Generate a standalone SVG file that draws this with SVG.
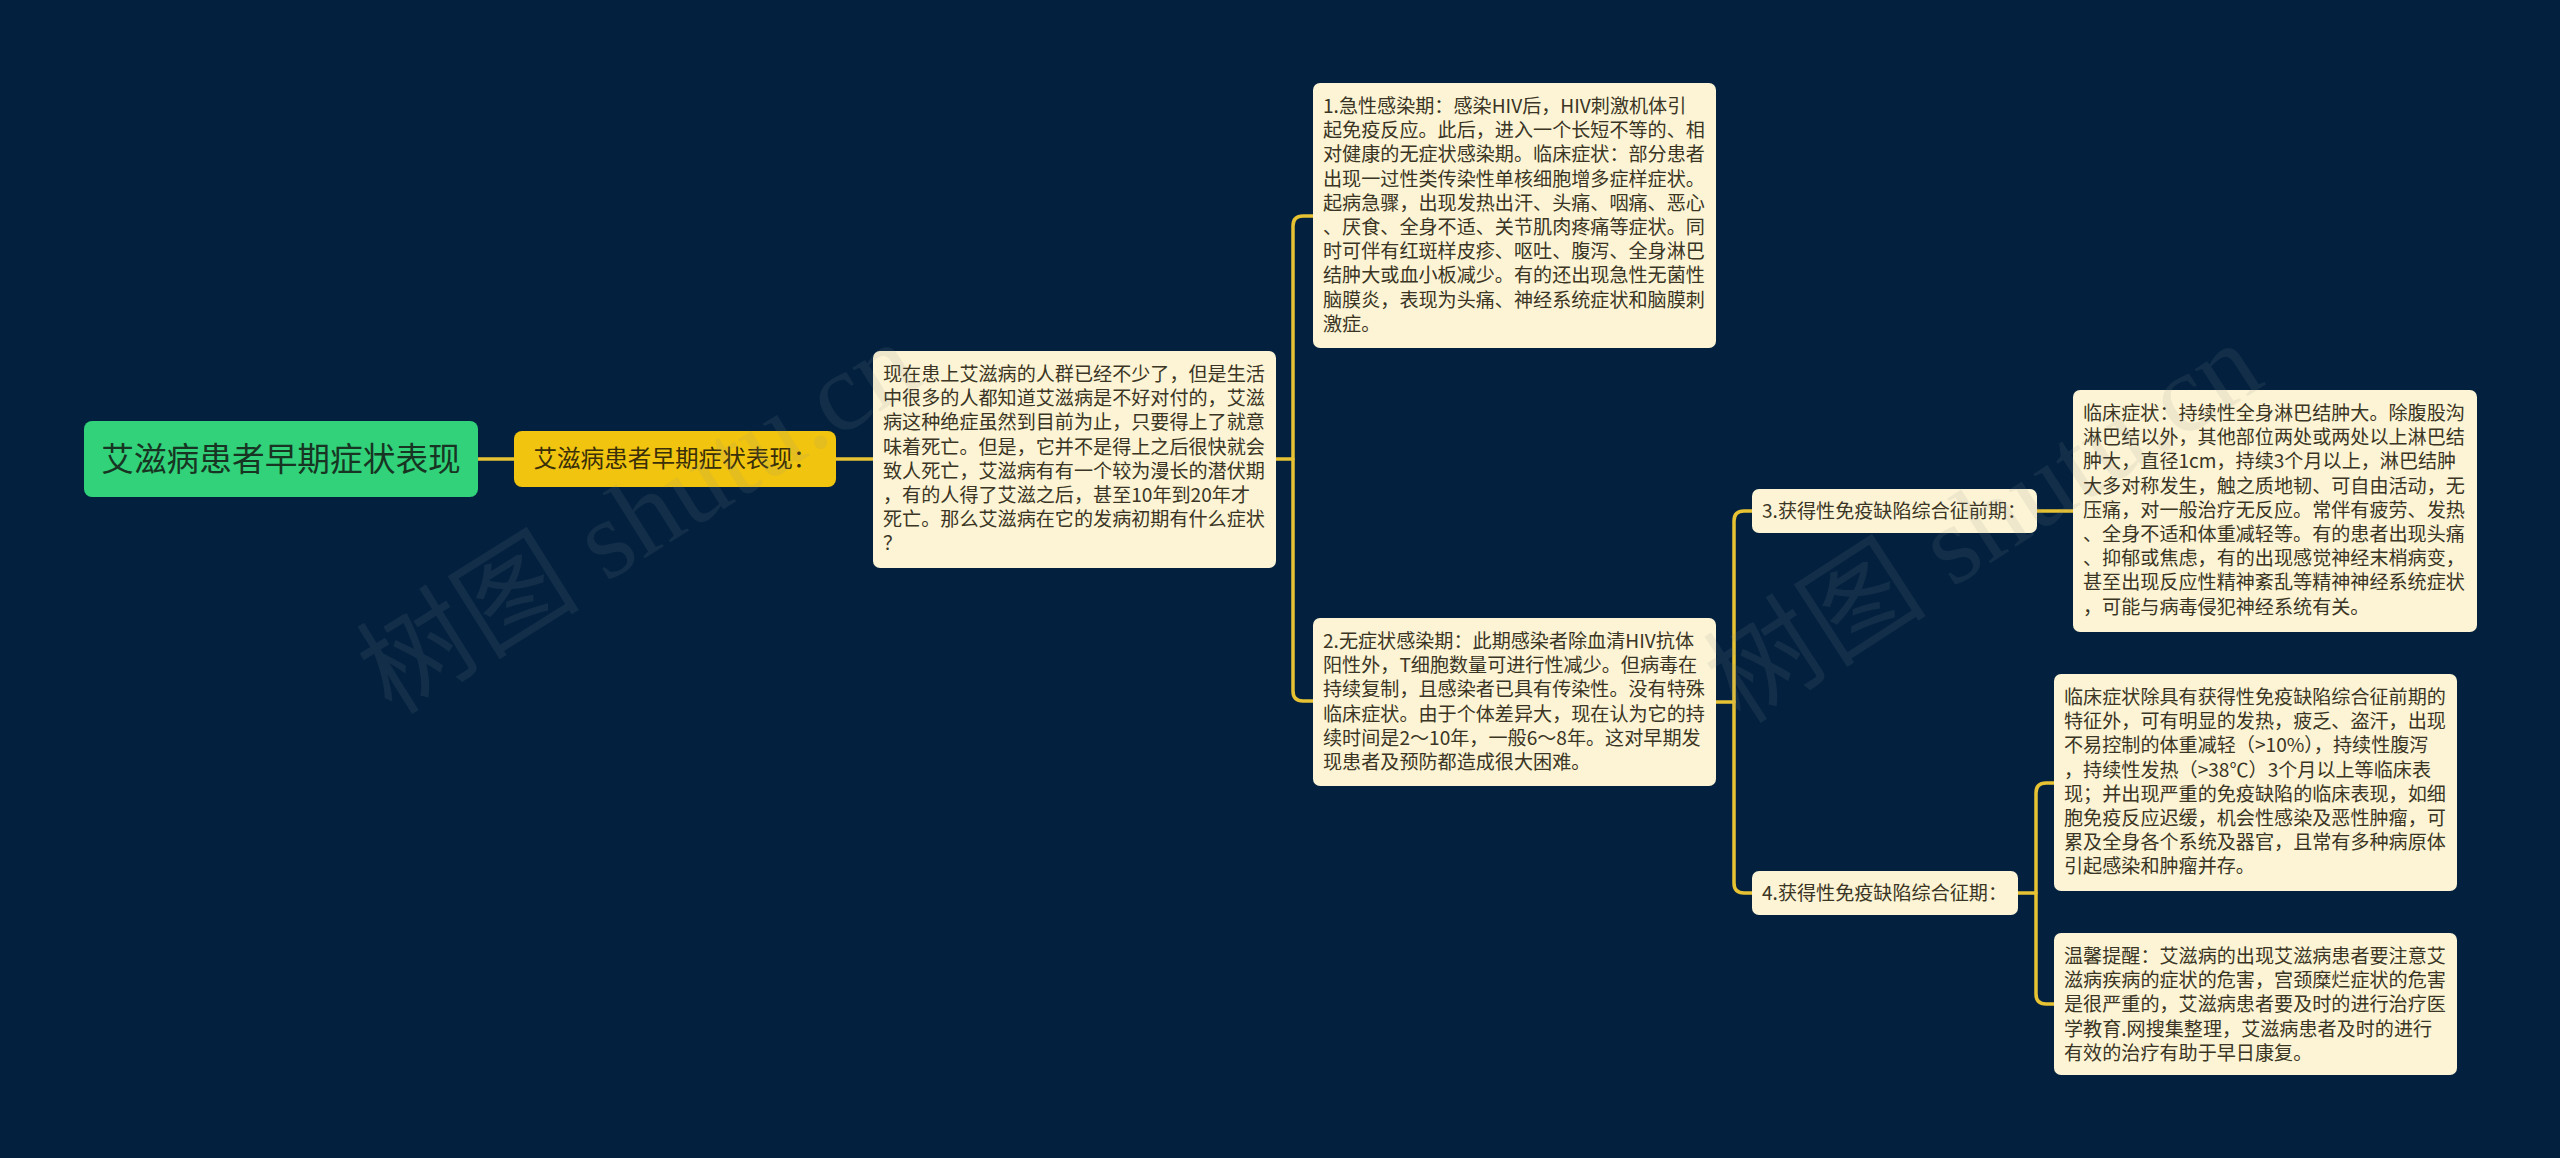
<svg xmlns="http://www.w3.org/2000/svg" width="2560" height="1158" viewBox="0 0 2560 1158">
<style>
.bg{fill:#03213f}
.leaf rect{fill:#fcf4d4}
.leaf text{font-family:"Noto Sans CJK SC","Noto Sans",sans-serif;font-size:19.1px;fill:#3a3524}
.root rect{fill:#31d27a}
.root text{font-family:"Noto Sans CJK SC","Noto Sans",sans-serif;font-size:32.7px;fill:#173522}
.l1 rect{fill:#f1c40f}
.l1 text{font-family:"Noto Sans CJK SC","Noto Sans",sans-serif;font-size:23.6px;fill:#3a2f08}
.conn{fill:none;stroke:#e7c233;stroke-width:3.5;stroke-linecap:round}
.wm{font-family:"Liberation Serif","Noto Sans CJK SC",serif;font-size:112px;fill:#8a8a8a;fill-opacity:0.12}
</style>
<rect class="bg" x="0" y="0" width="2560" height="1158"/>

<g id="connectors">
<path class="conn" d="M478 459 H514"/>
<path class="conn" d="M836 459 H873"/>
<path class="conn" d="M1276 459 H1293"/>
<path class="conn" d="M1313 216 H1303 Q1293 216 1293 226 V691 Q1293 701 1303 701 H1313"/>
<path class="conn" d="M1716 702 H1734"/>
<path class="conn" d="M1752 511 H1744 Q1734 511 1734 521 V883 Q1734 893 1744 893 H1752"/>
<path class="conn" d="M2037 511 H2073"/>
<path class="conn" d="M2018 893 H2036"/>
<path class="conn" d="M2054 783 H2046 Q2036 783 2036 793 V994 Q2036 1004 2046 1004 H2054"/>
</g>

<g id="root" class="root">
<rect x="84" y="421" width="394" height="76" rx="8"/>
<text x="281" y="471" text-anchor="middle">艾滋病患者早期症状表现</text>
</g>

<g id="level1" class="l1">
<rect x="514" y="431" width="322" height="56" rx="8"/>
<text x="675" y="467" text-anchor="middle">艾滋病患者早期症状表现：</text>
</g>

<g id="intro" class="leaf">
<rect x="873" y="351" width="403" height="217" rx="7"/>
<text x="883" y="381">
<tspan x="883" dy="0">现在患上艾滋病的人群已经不少了，但是生活</tspan>
<tspan x="883" dy="24.2">中很多的人都知道艾滋病是不好对付的，艾滋</tspan>
<tspan x="883" dy="24.2">病这种绝症虽然到目前为止，只要得上了就意</tspan>
<tspan x="883" dy="24.2">味着死亡。但是，它并不是得上之后很快就会</tspan>
<tspan x="883" dy="24.2">致人死亡，艾滋病有有一个较为漫长的潜伏期</tspan>
<tspan x="883" dy="24.2">，有的人得了艾滋之后，甚至10年到20年才</tspan>
<tspan x="883" dy="24.2">死亡。那么艾滋病在它的发病初期有什么症状</tspan>
<tspan x="883" dy="24.2">？</tspan>
</text>
</g>

<g id="stage1" class="leaf">
<rect x="1313" y="83" width="403" height="265" rx="7"/>
<text x="1323" y="113">
<tspan x="1323" dy="0">1.急性感染期：感染HIV后，HIV刺激机体引</tspan>
<tspan x="1323" dy="24.2">起免疫反应。此后，进入一个长短不等的、相</tspan>
<tspan x="1323" dy="24.2">对健康的无症状感染期。临床症状：部分患者</tspan>
<tspan x="1323" dy="24.2">出现一过性类传染性单核细胞增多症样症状。</tspan>
<tspan x="1323" dy="24.2">起病急骤，出现发热出汗、头痛、咽痛、恶心</tspan>
<tspan x="1323" dy="24.2">、厌食、全身不适、关节肌肉疼痛等症状。同</tspan>
<tspan x="1323" dy="24.2">时可伴有红斑样皮疹、呕吐、腹泻、全身淋巴</tspan>
<tspan x="1323" dy="24.2">结肿大或血小板减少。有的还出现急性无菌性</tspan>
<tspan x="1323" dy="24.2">脑膜炎，表现为头痛、神经系统症状和脑膜刺</tspan>
<tspan x="1323" dy="24.2">激症。</tspan>
</text>
</g>

<g id="stage2" class="leaf">
<rect x="1313" y="618" width="403" height="168" rx="7"/>
<text x="1323" y="648">
<tspan x="1323" dy="0">2.无症状感染期：此期感染者除血清HIV抗体</tspan>
<tspan x="1323" dy="24.2">阳性外，T细胞数量可进行性减少。但病毒在</tspan>
<tspan x="1323" dy="24.2">持续复制，且感染者已具有传染性。没有特殊</tspan>
<tspan x="1323" dy="24.2">临床症状。由于个体差异大，现在认为它的持</tspan>
<tspan x="1323" dy="24.2">续时间是2～10年，一般6～8年。这对早期发</tspan>
<tspan x="1323" dy="24.2">现患者及预防都造成很大困难。</tspan>
</text>
</g>

<g id="stage3" class="leaf">
<rect x="1752" y="489" width="285" height="44" rx="7"/>
<text x="1762" y="518">3.获得性免疫缺陷综合征前期：</text>
</g>

<g id="stage3-detail" class="leaf">
<rect x="2073" y="390" width="404" height="242" rx="7"/>
<text x="2083" y="420">
<tspan x="2083" dy="0">临床症状：持续性全身淋巴结肿大。除腹股沟</tspan>
<tspan x="2083" dy="24.2">淋巴结以外，其他部位两处或两处以上淋巴结</tspan>
<tspan x="2083" dy="24.2">肿大，直径1cm，持续3个月以上，淋巴结肿</tspan>
<tspan x="2083" dy="24.2">大多对称发生，触之质地韧、可自由活动，无</tspan>
<tspan x="2083" dy="24.2">压痛，对一般治疗无反应。常伴有疲劳、发热</tspan>
<tspan x="2083" dy="24.2">、全身不适和体重减轻等。有的患者出现头痛</tspan>
<tspan x="2083" dy="24.2">、抑郁或焦虑，有的出现感觉神经末梢病变，</tspan>
<tspan x="2083" dy="24.2">甚至出现反应性精神紊乱等精神神经系统症状</tspan>
<tspan x="2083" dy="24.2">，可能与病毒侵犯神经系统有关。</tspan>
</text>
</g>

<g id="stage4" class="leaf">
<rect x="1752" y="871" width="266" height="44" rx="7"/>
<text x="1762" y="900">4.获得性免疫缺陷综合征期：</text>
</g>

<g id="stage4-detail" class="leaf">
<rect x="2054" y="674" width="403" height="217" rx="7"/>
<text x="2064" y="704">
<tspan x="2064" dy="0">临床症状除具有获得性免疫缺陷综合征前期的</tspan>
<tspan x="2064" dy="24.2">特征外，可有明显的发热，疲乏、盗汗，出现</tspan>
<tspan x="2064" dy="24.2">不易控制的体重减轻（&gt;10%），持续性腹泻</tspan>
<tspan x="2064" dy="24.2">，持续性发热（&gt;38℃）3个月以上等临床表</tspan>
<tspan x="2064" dy="24.2">现；并出现严重的免疫缺陷的临床表现，如细</tspan>
<tspan x="2064" dy="24.2">胞免疫反应迟缓，机会性感染及恶性肿瘤，可</tspan>
<tspan x="2064" dy="24.2">累及全身各个系统及器官，且常有多种病原体</tspan>
<tspan x="2064" dy="24.2">引起感染和肿瘤并存。</tspan>
</text>
</g>

<g id="reminder" class="leaf">
<rect x="2054" y="933" width="403" height="142" rx="7"/>
<text x="2064" y="963">
<tspan x="2064" dy="0">温馨提醒：艾滋病的出现艾滋病患者要注意艾</tspan>
<tspan x="2064" dy="24.2">滋病疾病的症状的危害，宫颈糜烂症状的危害</tspan>
<tspan x="2064" dy="24.2">是很严重的，艾滋病患者要及时的进行治疗医</tspan>
<tspan x="2064" dy="24.2">学教育.网搜集整理，艾滋病患者及时的进行</tspan>
<tspan x="2064" dy="24.2">有效的治疗有助于早日康复。</tspan>
</text>
</g>

<g id="watermark">
<text class="wm" x="640" y="555" text-anchor="middle" transform="rotate(-32 640 520)">树图 shutu.cn</text>
<text class="wm" x="1985" y="560" text-anchor="middle" transform="rotate(-33 1985 525)">树图 shutu.cn</text>
</g>
</svg>
